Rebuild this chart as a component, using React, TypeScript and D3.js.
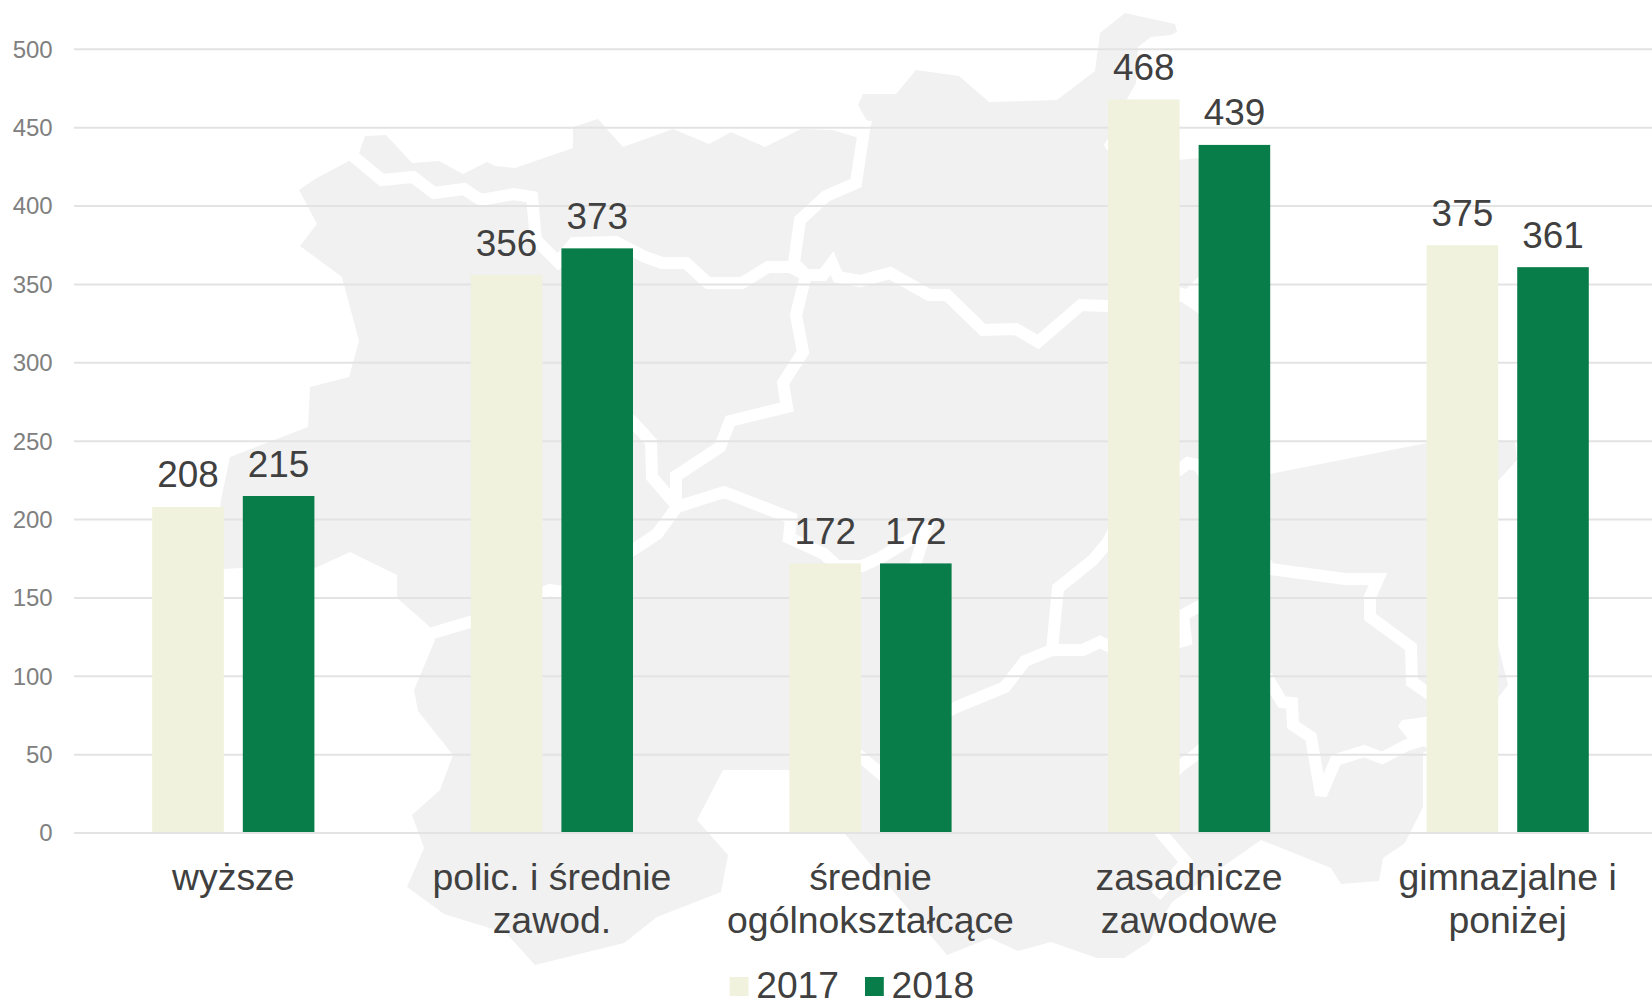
import React from "react";
import * as d3 from "d3";

const categories = ["wyższe", "polic. i średnie\nzawod.", "średnie\nogólnokształcące", "zasadnicze\nzawodowe", "gimnazjalne i\nponiżej"];
const seriesNames = ["2017", "2018"];
const values2017 = [208, 356, 172, 468, 375];
const values2018 = [215, 373, 172, 439, 361];
const yTicks = [0, 50, 100, 150, 200, 250, 300, 350, 400, 450, 500];

type P = [number, number];

// Decorative background map.
const mapOutline: P[] = [
  [299,190],[315,179],[349,161],[354,157],[359,153],[365,136],[386,135],[412,163],[439,161],[463,174],[487,162],[495,166],[515,168],
  [573,148],[573,127],[598,119],[623,147],[673,129],[709,144],[731,132],[765,147],[801,129],[833,130],[859,138],[865,132],[871,128],
  [858,105],[863,94],[896,94],[916,70],[959,76],[989,102],[1057,100],[1095,71],[1100,33],[1125,13],[1175,24],[1177,32],[1171,35],
  [1151,37],[1138,47],[1136,83],[1127,99],[1125,120],[1107,140],[1104,145],[1107,150],[1125,155],[1179,160],[1198,158],[1210,200],
  [1210,265],[1198,277],[1186,289],[1179,287],[1179,300],[1198,313],[1210,330],[1210,460],[1270,474],[1427,443],[1515,441],[1517,460],
  [1498,481],[1480,560],[1498,645],[1508,685],[1498,698],[1440,715],[1428,750],[1423,753],[1423,807],[1405,843],[1383,858],[1379,881],
  [1341,884],[1331,868],[1261,840],[1172,902],[1149,942],[1124,958],[1097,958],[1051,942],[1018,951],[990,938],[947,955],[845,834],
  [840,800],[830,770],[723,770],[697,820],[728,855],[721,892],[657,917],[624,943],[535,965],[506,933],[444,914],[407,887],[424,848],
  [412,815],[440,790],[453,755],[418,711],[414,690],[435,640],[430,627],[397,598],[397,575],[350,552],[315,568],[242,568],[223,569],
  [216,568],[221,500],[230,457],[308,427],[310,387],[349,377],[359,341],[342,277],[300,246],[317,224],
];

const mapBorders: P[][] = [
  [[346,150],[354,157],[382,180],[413,177],[434,193],[464,189],[481,200],[514,194],[532,197],[536,240],[558,262],[574,243],[616,242],[645,257],[662,263],[686,263],[708,283],[742,283],[768,267],[790,267],[806,275],[823,275],[832,263],[838,277],[860,281],[890,273],[929,295],[947,295],[983,330],[1016,329],[1038,342],[1081,305],[1107,306],[1150,300],[1185,295],[1200,295]],
  [[866,120],[864,130],[856,183],[826,196],[800,220],[794,263],[806,275],[796,315],[803,352],[783,383],[787,407],[730,421],[720,447],[676,476],[676,503]],
  [[600,395],[633,422],[651,442],[652,477],[676,505]],
  [[426,635],[470,622],[550,590],[561,592],[633,550],[657,534],[677,507],[724,492],[791,518],[789,538],[807,546],[824,554],[837,566],[862,566],[880,558],[926,530],[915,565],[905,640],[915,730]],
  [[1052,650],[1025,661],[1005,687],[952,709],[915,730],[880,773],[861,757],[840,740]],
  [[1052,650],[1058,588],[1093,560],[1108,542],[1130,500],[1160,478],[1179,470],[1188,463],[1198,465],[1235,520],[1270,569],[1345,579],[1378,579],[1370,597],[1370,617],[1411,647],[1412,682],[1435,698]],
  [[1052,650],[1083,650],[1100,642],[1108,646],[1150,650],[1186,640],[1183,615],[1198,607],[1235,590]],
  [[1440,735],[1407,745],[1382,758],[1364,751],[1336,760],[1321,795],[1311,737],[1293,725],[1292,703],[1282,702],[1270,682],[1230,720],[1198,753],[1179,767],[1155,795],[1150,815],[1162,834],[1186,862],[1156,896]],
];

const mapNotch: P[] = [[1402,720],[1398,726],[1407,738],[1427,748],[1440,745],[1440,715]];

const W = 1652;
const H = 1001;
const FONT = "'Liberation Sans', Arial, sans-serif";
const TEXT = "#404040";
const GRID = "#e3e3e3";
const MAP_FILL = "#f1f1f1";
const COLORS = ["#f0f2dd", "#087d4a"];

export default function App() {
  const x0 = d3.scaleBand<string>().domain(categories).range([74, 1667]);
  const x1 = d3.scaleBand<string>().domain(seriesNames).range([-81.1, 81.1]).paddingInner(0.21);
  const y = d3.scaleLinear().domain([0, 500]).range([833, 49.3]);
  const line = d3.line<P>().x((d) => d[0]).y((d) => d[1]);
  const seriesValues = [values2017, values2018];

  return (
    <svg
      width={W}
      height={H}
      viewBox={`0 0 ${W} ${H}`}
      style={{ position: "absolute", left: 0, top: 0, display: "block", background: "#fff" }}
      fontFamily={FONT}
    >
      <path d={line(mapOutline) + "Z"} fill={MAP_FILL} />
      {mapBorders.map((b, i) => (
        <path key={i} d={line(b) ?? ""} fill="none" stroke="#fff" strokeWidth={12} strokeLinejoin="miter" strokeMiterlimit={3} />
      ))}
      <path d={line(mapNotch) + "Z"} fill="#fff" />

      {yTicks.map((t) => (
        <g key={t}>
          <line x1={74} x2={W} y1={y(t)} y2={y(t)} stroke={GRID} strokeWidth={2} />
          <text x={52.7} y={y(t)} dy="0.35em" textAnchor="end" fontSize={24} fill="#808080">
            {t}
          </text>
        </g>
      ))}

      {categories.map((c, i) => {
        const center = (x0(c) ?? 0) + x0.bandwidth() / 2;
        return (
          <g key={c}>
            {seriesNames.map((s, k) => {
              const v = seriesValues[k][i];
              const bx = center + (x1(s) ?? 0);
              return (
                <g key={s}>
                  <rect x={bx} y={y(v)} width={x1.bandwidth()} height={y(0) - y(v) - 1} fill={COLORS[k]} />
                  <text x={bx + x1.bandwidth() / 2} y={y(v) - 19.5} textAnchor="middle" fontSize={36.9} fill={TEXT}>
                    {v}
                  </text>
                </g>
              );
            })}
            {c.split("\n").map((l, j) => (
              <text key={j} x={center} y={890 + j * 43} textAnchor="middle" fontSize={37.4} fill={TEXT}>
                {l}
              </text>
            ))}
          </g>
        );
      })}

      {seriesNames.map((s, k) => (
        <g key={s} transform={`translate(${k === 0 ? 729.7 : 865},0)`}>
          <rect x={0} y={977} width={18.8} height={19} fill={COLORS[k]} />
          <text x={26.5} y={998} fontSize={37.2} fill={TEXT}>
            {s}
          </text>
        </g>
      ))}
    </svg>
  );
}
